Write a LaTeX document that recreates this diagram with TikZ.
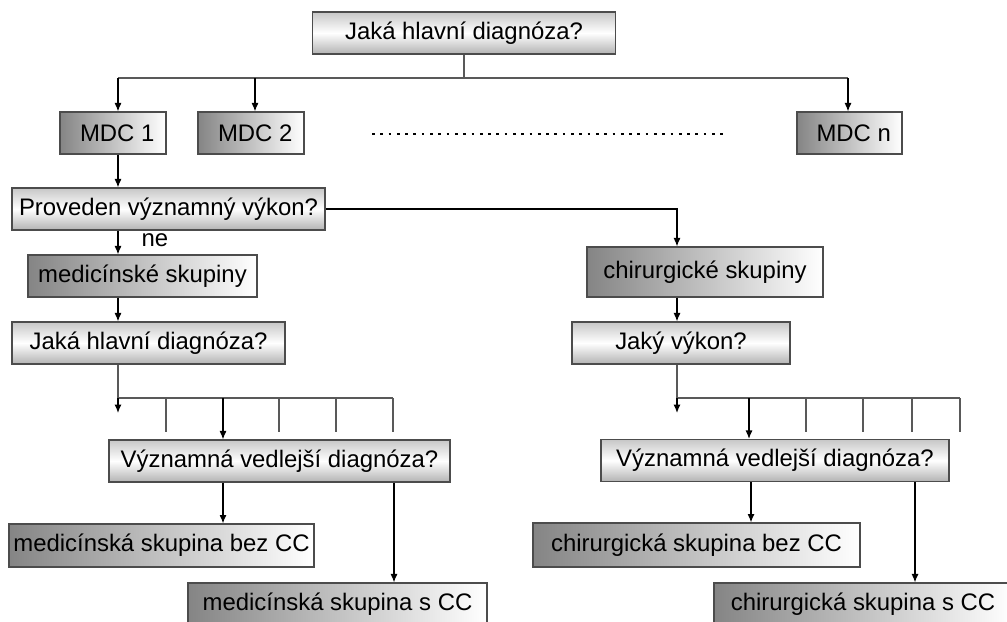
\documentclass[tikz,border=0pt]{standalone}
\usepackage{fontspec}
\setmainfont{Liberation Sans}
\usepackage{tikz}
\usetikzlibrary{calc}
\usetikzlibrary{shapes,arrows.meta}

\begin{document}
\begin{tikzpicture} [scale=.5,
		question/.style={draw=black!70, line width=.8pt, top color=black!22, bottom color=black!30, middle color=white, minimum height=29.9pt, inner sep=0pt, font=\fontsize{17}{20}\selectfont},
		group/.style={draw=black!70, line width=.8pt, left color=black!48, right color=white, minimum height=29.9pt, inner sep=0pt, font=\fontsize{17}{20}\selectfont},
		arr/.style={-{Latex[length=6pt,width=5pt]}, line width=.9pt},
		branch/.style={line width=.9pt, black!65}]

		\useasboundingbox (0,0) rectangle (50.35,-31.05);
		\clip (0,0) rectangle (50.35,-31.05);

		% top question
		\node[question, minimum width=215.5pt] (q1) at (23.2,-1.65) {Jaká hlavní diagnóza?};

		% MDC row
		\node[group, minimum width=75.4pt] (mdc1) at (5.65,-6.65) {\hspace{6pt}MDC 1};
		\node[group, minimum width=75.4pt] (mdc2) at (12.55,-6.65) {\hspace{6pt}MDC 2};
		\node[group, minimum width=74.7pt] (mdcn) at (42.475,-6.65) {\hspace{6pt}MDC n};
		\coordinate (dotsL) at (18.6,-6.7);
		\coordinate (dotsR) at (36.3,-6.7);
		\draw [line width=1.9pt, dash pattern=on 1.9pt off 4pt] (dotsL) -- (dotsR);

		% columns
		\coordinate (c1) at (5.9,0);
		\coordinate (c2) at (12.75,0);
		\coordinate (cn) at (42.4,0);
		\coordinate (cr) at (33.85,0);
		\coordinate (bus) at (0,-3.9);

		\draw [branch] (q1.south) -- (q1.south |- bus);
		\draw [branch] (c1 |- bus) -- (cn |- bus);
		\draw [arr] (c1 |- bus) -- (c1 |- mdc1.north);
		\draw [arr] (c2 |- bus) -- (c2 |- mdc2.north);
		\draw [arr] (cn |- bus) -- (cn |- mdcn.north);

		% left side
		\node[question, minimum width=222.6pt] (prov) at (8.425,-10.45) {Proveden významný výkon?};
		\draw [arr] (c1 |- mdc1.south) -- (c1 |- prov.north);
		\node[font=\fontsize{17}{20}\selectfont] (ne) at (7.75,-12.0) {ne};
		\node[group, minimum width=162.9pt] (medsk) at (7.125,-13.8) {medicínské skupiny};
		\draw [arr] (c1 |- prov.south) -- (c1 |- medsk.north);
		\node[question, minimum width=194.2pt] (q2) at (7.425,-17.15) {Jaká hlavní diagnóza?};
		\draw [arr] (c1 |- medsk.south) -- (c1 |- q2.north);

		% right side
		\node[group, minimum width=167.9pt, minimum height=35.6pt] (chsk) at (35.25,-13.6) {chirurgické skupiny};
		\draw [arr] (prov.east) -| (cr |- chsk.north);
		\node[question, minimum width=155.1pt] (vykon) at (34.05,-17.15) {Jaký výkon?};
		\draw [arr] (cr |- chsk.south) -- (cr |- vykon.north);

		% left bus
		\coordinate (lbus) at (0,-19.9);
		\coordinate (lfree) at (5.9,-20.65);
		\node[question, minimum width=242.6pt] (vvdL) at (13.975,-23.05) {Významná vedlejší diagnóza?};
		\draw [branch] (c1 |- q2.south) -- (c1 |- lbus) -- (19.65,-19.9);
		\draw [arr] (c1 |- lbus) -- (lfree);
		\foreach \x in {8.3,13.95,16.8,19.65}
			\draw [branch] (\x,-19.9) -- (\x,-21.6);
		\draw [arr] (11.15,-19.9) -- (11.15,-19.9 |- vvdL.north);

		\node[group, minimum width=216.9pt, minimum height=30.6pt] (medbez) at (8.075,-27.275) {medicínská skupina bez CC};
		\node[group, minimum width=212.7pt] (medscc) at (16.875,-30.2) {medicínská skupina s CC};
		\draw [arr] (11.15,-19.9 |- vvdL.south) -- (11.15,-19.9 |- medbez.north);
		\draw [arr] (19.7,-19.9 |- vvdL.south) -- (19.7,-19.9 |- medscc.north);

		% right bus
		\coordinate (rfree) at (33.85,-20.65);
		\node[question, minimum width=247.5pt] (vvdR) at (38.75,-23.025) {Významná vedlejší diagnóza?};
		\draw [branch] (cr |- vykon.south) -- (cr |- lbus) -- (48.0,-19.9);
		\draw [arr] (cr |- lbus) -- (rfree);
		\foreach \x in {40.3,43.15,45.6,48.0}
			\draw [branch] (\x,-19.9) -- (\x,-21.6);
		\draw [arr] (37.45,-19.9) -- (37.45,-19.9 |- vvdR.north);

		\node[group, minimum width=232.6pt, minimum height=31.3pt] (chbez) at (34.825,-27.25) {chirurgická skupina bez CC};
		\node[group, minimum width=212pt] (chscc) at (43.15,-30.2) {chirurgická skupina s CC};
		\draw [arr] (37.55,-19.9 |- vvdR.south) -- (37.55,-19.9 |- chbez.north);
		\draw [arr] (45.75,-19.9 |- vvdR.south) -- (45.75,-19.9 |- chscc.north);

	\end{tikzpicture}
\end{document}
